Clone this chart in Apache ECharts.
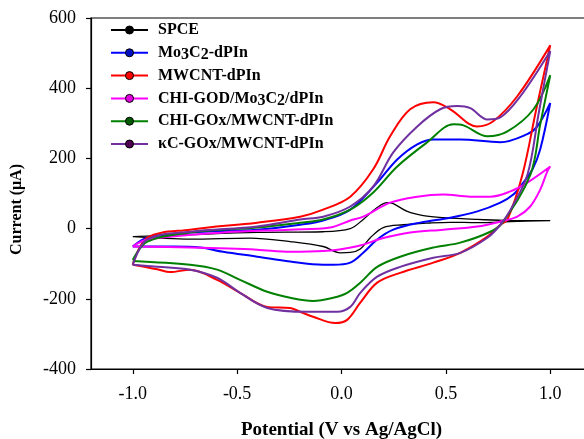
<!DOCTYPE html>
<html>
<head>
<meta charset="utf-8">
<script src="https://cdn.jsdelivr.net/npm/echarts@6/dist/echarts.min.js"></script>
<style>
html,body{margin:0;padding:0;background:#fff;}
#chart{width:584px;height:439px;}
</style>
</head>
<body>
<div id="chart"></div>
<script>
// ---- data (potential V, current µA): forward sweep then reverse sweep ----
var seriesNames = ['SPCE', 'Mo3C2-dPIn', 'MWCNT-dPIn', 'CHI-GOD/Mo3C2/dPIn', 'CHI-GOx/MWCNT-dPIn', 'κC-GOx/MWCNT-dPIn'];
var xTickValues = [-1.0, -0.5, 0.0, 0.5, 1.0];
var yTickValues = [-400, -200, 0, 200, 400, 600];

var spce = [[-1.0,-23],[-0.725,-17],[-0.404,-11],[-0.088,-9],[0.042,0],[0.104,26],[0.171,60],[0.219,74],[0.248,71],[0.315,49],[0.392,37],[0.488,31],[0.651,26],[0.809,23],[1.0,23],
  [0.809,20],[0.651,17],[0.521,18],[0.425,16],[0.296,11],[0.2,3],[0.138,-26],[0.09,-58],[0.042,-68],[-0.006,-69],[-0.088,-51],[-0.246,-37],[-0.437,-27],[-0.725,-30],[-1.0,-23]];

var mo3c2 = [[-1.0,-51],[-0.93,-26],[-0.725,-11],[-0.404,-3],[-0.198,11],[-0.088,23],[0.042,54],[0.171,131],[0.267,197],[0.363,240],[0.44,254],[0.569,254],[0.761,246],[0.89,269],[0.938,291],[1.0,358],
  [0.952,226],[0.915,169],[0.871,131],[0.823,97],[0.761,74],[0.651,49],[0.521,31],[0.377,17],[0.248,-3],[0.171,-31],[0.104,-69],[0.042,-97],[-0.04,-103],[-0.088,-103],[-0.246,-94],[-0.404,-80],[-0.567,-66],[-0.677,-54],[-0.806,-51],[-1.0,-51]];

var mwcnt = [[-1.0,-103],[-0.93,-26],[-0.725,-3],[-0.404,17],[-0.198,34],[-0.088,54],[0.042,91],[0.152,169],[0.233,263],[0.329,340],[0.44,360],[0.521,340],[0.65,291],[0.727,306],[0.842,377],[1.0,522],
  [0.933,340],[0.867,154],[0.795,26],[0.761,11],[0.699,-23],[0.569,-69],[0.44,-97],[0.281,-126],[0.171,-154],[0.09,-211],[0.027,-260],[-0.03,-269],[-0.136,-251],[-0.198,-237],[-0.246,-226],[-0.356,-223],[-0.486,-183],[-0.596,-146],[-0.725,-117],[-0.821,-124],[-0.883,-116],[-1.0,-103]];

var chiGod = [[-1.0,-51],[-0.93,-31],[-0.566,-11],[-0.246,-3],[-0.054,3],[0.042,23],[0.104,34],[0.233,74],[0.363,91],[0.488,97],[0.617,91],[0.713,91],[0.809,106],[0.89,131],[1.0,177],
  [0.986,163],[0.952,111],[0.904,63],[0.842,34],[0.761,20],[0.651,6],[0.488,-3],[0.329,-11],[0.2,-27],[0.075,-50],[-0.088,-64],[-0.246,-66],[-0.404,-60],[-0.725,-54],[-1.0,-51]];

var chiGox = [[-1.0,-89],[-0.93,-37],[-0.725,-11],[-0.404,3],[-0.198,17],[-0.088,26],[0.042,54],[0.152,103],[0.267,177],[0.411,246],[0.536,297],[0.584,294],[0.699,263],[0.795,277],[0.92,340],[1.0,437],
  [0.952,297],[0.905,154],[0.771,17],[0.713,-9],[0.569,-40],[0.44,-54],[0.281,-80],[0.171,-109],[0.09,-154],[0.027,-183],[-0.04,-197],[-0.136,-206],[-0.246,-197],[-0.356,-180],[-0.486,-146],[-0.596,-117],[-0.725,-103],[-1.0,-92]];

var kcGox = [[-1.0,-103],[-0.93,-31],[-0.725,-9],[-0.404,6],[-0.198,26],[-0.088,34],[0.042,63],[0.152,120],[0.248,217],[0.363,291],[0.473,340],[0.555,349],[0.617,343],[0.699,311],[0.761,317],[0.857,377],[1.0,506],
  [0.945,330],[0.891,154],[0.81,54],[0.761,11],[0.699,-26],[0.569,-69],[0.44,-83],[0.281,-109],[0.171,-137],[0.09,-183],[0.042,-223],[-0.02,-237],[-0.164,-237],[-0.356,-226],[-0.486,-183],[-0.596,-140],[-0.725,-117],[-0.883,-109],[-1.0,-103]];

var seriesData = [spce, mo3c2, mwcnt, chiGod, chiGox, kcGox];
var lineColors = ['#000000', '#0000ff', '#ff0000', '#ff00ff', '#008000', '#7030a0'];
var markerColors = ['#000000', '#0010c0', '#ff0000', '#e000e0', '#005a00', '#500050'];
var lineWidths = [1.3, 2, 2, 2, 2, 2];

var FONT = '"Liberation Serif", "Times New Roman", serif';

var chart = echarts.init(document.getElementById('chart'), null, {renderer: 'canvas'});

var series = seriesData.map(function (d, i) {
  return {
    name: seriesNames[i],
    type: 'line',
    data: d,
    smooth: 0.35,
    symbol: 'circle',
    showSymbol: false,
    lineStyle: {color: lineColors[i], width: lineWidths[i]},
    itemStyle: {color: lineColors[i]},
    emphasis: {disabled: true},
    z: 2 + i
  };
});

chart.setOption({
  animation: false,
  backgroundColor: '#ffffff',
  grid: {left: 91, top: 18, right: -8, bottom: 70, outerBoundsMode: 'none', containLabel: false,
    show: true, borderColor: '#000', borderWidth: 1.2, backgroundColor: 'transparent'},
  legend: {
    orient: 'vertical',
    left: 110,
    top: 20,
    padding: 0,
    itemWidth: 37,
    itemHeight: 10,
    itemGap: 2.8,
    itemStyle: {borderColor: '#000', borderWidth: 1},
    data: seriesNames.map(function (n, i) {
      return {name: n, itemStyle: {color: markerColors[i], borderColor: '#000', borderWidth: 1}};
    }),
    formatter: function (name) {
      if (name === 'Mo3C2-dPIn') return '{a|Mo}{s|3}{a|C}{s|2}{a|-dPIn}';
      if (name === 'CHI-GOD/Mo3C2/dPIn') return '{a|CHI-GOD/Mo}{s|3}{a|C}{s|2}{a|/dPIn}';
      return '{a|' + name + '}';
    },
    textStyle: {
      color: '#000', fontFamily: FONT, fontWeight: 'bold', fontSize: 16, lineHeight: 20,
      padding: [0, 0, 0, 5],
      rich: {
        a: {color: '#000', fontFamily: FONT, fontWeight: 'bold', fontSize: 16, lineHeight: 20, verticalAlign: 'middle'},
        s: {color: '#000', fontFamily: FONT, fontWeight: 'bold', fontSize: 16, lineHeight: 14, verticalAlign: 'bottom'}
      }
    }
  },
  xAxis: {
    type: 'value',
    min: -1.2,
    max: 1.2,
    name: 'Potential (V vs Ag/AgCl)',
    nameLocation: 'middle',
    nameGap: 52,
    nameTextStyle: {color: '#000', fontFamily: FONT, fontWeight: 'bold', fontSize: 19},
    axisLine: {show: true, onZero: false, lineStyle: {color: '#000', width: 1.2}},
    axisTick: {show: true, inside: false, length: 5, customValues: xTickValues, lineStyle: {color: '#000', width: 1.2}},
    axisLabel: {show: true, customValues: xTickValues, margin: 16, color: '#000', fontFamily: FONT, fontSize: 18,
      formatter: function (v) { return v.toFixed(1); }},
    splitLine: {show: false}
  },
  yAxis: {
    type: 'value',
    min: -400,
    max: 600,
    interval: 200,
    name: 'Current (μA)',
    nameLocation: 'middle',
    nameRotate: 90,
    nameGap: 66,
    nameTextStyle: {color: '#000', fontFamily: FONT, fontWeight: 'bold', fontSize: 16, padding: [0, 32, 0, 0]},
    axisLine: {show: true, onZero: false, lineStyle: {color: '#000', width: 1.2}},
    axisTick: {show: true, inside: false, length: 5, lineStyle: {color: '#000', width: 1.2}},
    axisLabel: {show: true, margin: 15, color: '#000', fontFamily: FONT, fontSize: 18},
    splitLine: {show: false}
  },
  series: series
});
</script>
</body>
</html>
